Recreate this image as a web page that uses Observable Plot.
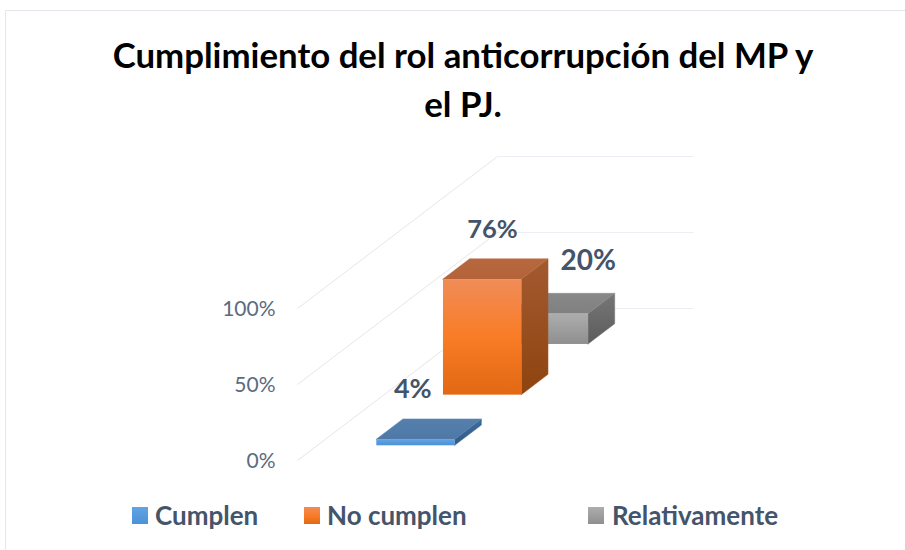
<!DOCTYPE html>
<html lang="es">
<head>
<meta charset="utf-8">
<script src="https://cdn.jsdelivr.net/npm/d3@7"></script>
<script src="https://cdn.jsdelivr.net/npm/@observablehq/plot@0.6"></script>
<style>
  html, body { margin: 0; padding: 0; background: #fff; overflow: hidden; }
  #page { position: relative; width: 905px; height: 550px; overflow: hidden; font-family: Lato, sans-serif; }
  #frame { position: absolute; left: 5px; top: 10px; width: 900px; height: 540px; border-top: 1px solid #e4e7ee; border-left: 1px solid #e4e7ee; }
  h1 { position: absolute; left: 0; top: 30px; width: 926px; margin: 0; text-align: center; font: 700 34.8px/49px Lato, sans-serif; color: #000; }
  #chart { position: absolute; left: 0; top: 140px; }
  .item { position: absolute; top: 500px; height: 30px; line-height: 30px; font-size: 26px; font-weight: 700; color: #44546a; white-space: nowrap; }
  .sw { position: absolute; top: 507px; width: 16px; height: 17px; }
</style>
</head>
<body>
<div id="page">
  <div id="frame"></div>
  <h1>Cumplimiento del rol anticorrupción del MP y<br>el PJ.</h1>
  <div id="chart"></div>
  <div id="legend"></div>
</div>
<script>
const categories = ["Cumplen", "No cumplen", "Relativamente"];
const values = [4, 76, 20];
const labels = ["4%", "76%", "20%"];
const tickValues = [0, 50, 100];

// Oblique projection of the 3-D column chart: u across, w along depth (one unit per series), v = percent.
const shear = 200 / 196;
const project = (u, w, v) => ({px: u + (w * shear) / 3, py: v + (w * 100) / 3});
const uLo = 0.3, uHi = 0.7, wLo = 0.3, wHi = 0.7;

const looks = [
  {front: ["#62a3e2", "#4c92d8"], top: ["#5480ae", "#4f78a6"], side: ["#3f6c9c", "#335a84"], labelDx: -16, labelDy: -40, labelSize: 27},
  {front: ["#f08c58", "#f97c26", "#e26813"], top: ["#b7683f", "#b46338"], side: ["#a35a30", "#8e440f"], labelDx: -3, labelDy: -39, labelSize: 25.5},
  {front: ["#adadad", "#8f8f8f"], top: ["#888888", "#808080"], side: ["#767676", "#5c5c5c"], labelDx: 26, labelDy: -42, labelSize: 28}
];

function gradient(defs, id, stops, horizontal) {
  const g = defs.append("linearGradient").attr("id", id)
    .attr("x1", 0).attr("y1", 0).attr("x2", horizontal ? 1 : 0).attr("y2", horizontal ? 0 : 1);
  stops.forEach((c, i) => g.append("stop").attr("offset", i / (stops.length - 1)).attr("stop-color", c));
}

const defsMark = () => {
  const defs = d3.create("svg:defs");
  looks.forEach((l, i) => {
    gradient(defs, `front${i}`, l.front);
    gradient(defs, `top${i}`, l.top);
    gradient(defs, `side${i}`, l.side);
  });
  return defs.node();
};

const wallGrid = tickValues.map(t => ({a: project(0, 0, t), b: project(0, 3, t), c: project(1, 3, t)}));

const barMarks = [2, 1, 0].flatMap(i => {
  const v = values[i];
  const w0 = i + wLo, w1 = i + wHi;
  const top = [project(uLo, w0, v), project(uLo, w1, v), project(uHi, w1, v), project(uHi, w0, v), project(uLo, w0, v)];
  const side = [project(uHi, w0, 0), project(uHi, w1, 0), project(uHi, w1, v), project(uHi, w0, v), project(uHi, w0, 0)];
  const fl = project(uLo, w0, 0), fr = project(uHi, w0, v);
  return [
    Plot.line(side, {x: "px", y: "py", fill: `url(#side${i})`, stroke: looks[i].side[0], strokeWidth: 0.5}),
    Plot.line(top, {x: "px", y: "py", fill: `url(#top${i})`, stroke: looks[i].top[0], strokeWidth: 0.5}),
    Plot.rect([{x1: fl.px, x2: fr.px, y1: fl.py, y2: fr.py}], {x1: "x1", x2: "x2", y1: "y1", y2: "y2", fill: `url(#front${i})`, inset: 0, dx: 0.5, dy: 0.5})
  ];
});

const labelMarks = categories.map((c, i) => {
  const p = project(0.5, i + 0.5, values[i]);
  return Plot.text([p], {
    x: "px", y: "py", text: () => labels[i],
    dx: looks[i].labelDx, dy: looks[i].labelDy,
    fontSize: looks[i].labelSize, fontWeight: 700, fill: "#44546a", fontFamily: "Lato, sans-serif"
  });
});

const chart = Plot.plot({
  width: 905,
  height: 350,
  marginLeft: 297,
  marginRight: 212,
  marginTop: 16,
  marginBottom: 30,
  style: {background: "transparent", overflow: "visible"},
  x: {domain: [0, 1 + shear], axis: null},
  y: {domain: [0, 200], axis: null},
  marks: [
    defsMark,
    Plot.link(wallGrid, {x1: d => d.a.px, y1: d => d.a.py, x2: d => d.b.px, y2: d => d.b.py, stroke: "#e6e6e6", strokeWidth: 1}),
    Plot.link(wallGrid, {x1: d => d.b.px, y1: d => d.b.py, x2: d => d.c.px, y2: d => d.c.py, stroke: "#eceef3", strokeWidth: 1.2}),
    Plot.axisY(tickValues, {
      tickSize: 0, tickPadding: 22, label: null, dy: 1,
      tickFormat: d => d + "%",
      fontSize: 21, fill: "#5b6b80", fontFamily: "Lato, sans-serif"
    }),
    ...barMarks,
    ...labelMarks
  ]
});
document.getElementById("chart").appendChild(chart);

const swatchX = [132, 304, 588], textX = [155, 327, 612];
const legend = document.getElementById("legend");
categories.forEach((c, i) => {
  const sw = document.createElement("div");
  sw.className = "sw";
  sw.style.left = swatchX[i] + "px";
  sw.style.background = `linear-gradient(${looks[i].front.join(",")})`;
  const t = document.createElement("div");
  t.className = "item";
  t.style.left = textX[i] + "px";
  t.textContent = c;
  legend.append(sw, t);
});
</script>
</body>
</html>
